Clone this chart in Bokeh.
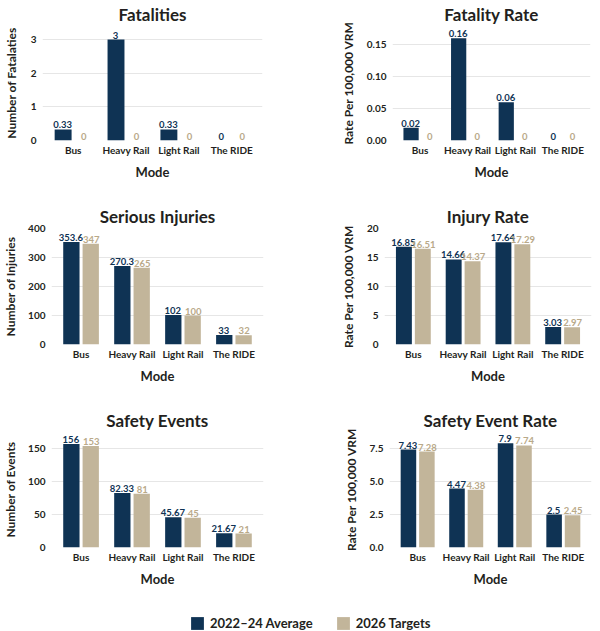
from bokeh.plotting import figure
from bokeh.models import (FactorRange, Range1d, ColumnDataSource, NumeralTickFormatter,
                          FixedTicker, Legend, LegendItem)
from bokeh.transform import dodge
from bokeh.layouts import column, row
from bokeh.embed import file_html
from bokeh.resources import INLINE
from bokeh.core.properties import value

# ---------------- data ----------------
modes = ["Bus", "Heavy Rail", "Light Rail", "The RIDE"]
series_names = ["2022\u201324 Average", "2026 Targets"]

fatalities_avg = [0.33, 3, 0.33, 0]
fatalities_tgt = [0, 0, 0, 0]
fatality_rate_avg = [0.02, 0.16, 0.06, 0]
fatality_rate_tgt = [0, 0, 0, 0]
injuries_avg = [353.6, 270.3, 102, 33]
injuries_tgt = [347, 265, 100, 32]
injury_rate_avg = [16.85, 14.66, 17.64, 3.03]
injury_rate_tgt = [16.51, 14.37, 17.29, 2.97]
events_avg = [156, 82.33, 45.67, 21.67]
events_tgt = [153, 81, 45, 21]
event_rate_avg = [7.43, 4.47, 7.9, 2.5]
event_rate_tgt = [7.28, 4.38, 7.74, 2.45]

fatalities_ticks = [0, 1, 2, 3]
fatality_rate_ticks = [0, 0.05, 0.10, 0.15]
injuries_ticks = [0, 100, 200, 300, 400]
injury_rate_ticks = [0, 5, 10, 15, 20]
events_ticks = [0, 50, 100, 150]
event_rate_ticks = [0, 2.5, 5.0, 7.5]

# ---------------- style ----------------
NAVY = "#0f3354"
TAN = "#c2b59a"
TAN_TXT = "#b9a989"
INK = "#231f20"
GRID = "#e6e6e6"
FONT = "Lato"


def make_panel(title, ylabel, avg, tgt, ticks, fmt, y_end, fw, fh,
               bl, br, bt, bb, ylab_standoff, title_standoff):
    p = figure(x_range=FactorRange(factors=modes, range_padding=0.04),
               y_range=Range1d(0, y_end),
               frame_width=fw, frame_height=fh, output_backend="svg",
               toolbar_location=None,
               min_border_left=bl, min_border_right=br,
               min_border_top=bt, min_border_bottom=bb)
    src = ColumnDataSource(dict(
        mode=modes, avg=avg, tgt=tgt,
        avg_lbl=[f"{v:g}" for v in avg],
        tgt_lbl=[f"{v:g}" for v in tgt],
    ))
    off = 0.19
    bw = 0.32
    p.vbar(x=dodge("mode", -off, range=p.x_range), top="avg", width=bw,
           source=src, fill_color=NAVY, line_color=None)
    p.vbar(x=dodge("mode", off, range=p.x_range), top="tgt", width=bw,
           source=src, fill_color=TAN, line_color=None)
    p.text(x=dodge("mode", -off, range=p.x_range), y="avg", text="avg_lbl",
           source=src, text_align="center", text_baseline="bottom",
           y_offset=-1, x_offset=-0.5,
           text_font=value(FONT), text_font_size="9.5px",
           text_font_style="bold", text_color=NAVY)
    p.text(x=dodge("mode", off, range=p.x_range), y="tgt", text="tgt_lbl",
           source=src, text_align="center", text_baseline="bottom",
           y_offset=-1, x_offset=0.5,
           text_font=value(FONT), text_font_size="9.5px",
           text_font_style="bold", text_color=TAN_TXT)

    p.title.text = title
    p.title.align = "center"
    p.title.text_font = FONT
    p.title.text_font_size = "17px"
    p.title.text_font_style = "bold"
    p.title.text_color = INK
    p.title.standoff = title_standoff

    p.outline_line_color = None
    p.xgrid.grid_line_color = None
    p.ygrid.grid_line_color = GRID
    p.ygrid.ticker = FixedTicker(ticks=ticks)

    p.yaxis.ticker = FixedTicker(ticks=ticks)
    p.yaxis.formatter = NumeralTickFormatter(format=fmt)
    p.yaxis.axis_label = ylabel
    p.yaxis.axis_label_standoff = ylab_standoff
    p.yaxis.major_label_standoff = 6
    p.xaxis.axis_label = "Mode"
    p.xaxis.axis_label_standoff = 5
    p.xaxis.major_label_standoff = 3
    for ax in (p.xaxis[0], p.yaxis[0]):
        ax.axis_line_color = None
        ax.major_tick_line_color = None
        ax.minor_tick_line_color = None
        ax.major_tick_out = 0
        ax.major_tick_in = 0
        ax.minor_tick_out = 0
        ax.minor_tick_in = 0
        ax.axis_label_text_font = FONT
        ax.axis_label_text_font_style = "bold"
        ax.axis_label_text_color = INK
        ax.major_label_text_font = FONT
        ax.major_label_text_font_style = "bold"
        ax.major_label_text_color = INK
    p.xaxis.axis_label_text_font_size = "13px"
    p.yaxis.axis_label_text_font_size = "12px"
    p.xaxis.major_label_text_font_size = "10px"
    p.yaxis.major_label_text_font_size = "10px"
    return p


p1 = make_panel("Fatalities", "Number of Fatalaties", fatalities_avg, fatalities_tgt,
                fatalities_ticks, "0", 3.42, 220, 115, 34, 38, 23, 60, 9, 2)
p2 = make_panel("Fatality Rate", "Rate Per 100,000 VRM", fatality_rate_avg, fatality_rate_tgt,
                fatality_rate_ticks, "0.00", 0.18, 198, 115, 92, 2, 23, 60, 8, 2)
p3 = make_panel("Serious Injuries", "Number of Injuries", injuries_avg, injuries_tgt,
                injuries_ticks, "0", 400, 212, 116, 42, 38, 28, 59, 7, 4)
p4 = make_panel("Injury Rate", "Rate Per 100,000 VRM", injury_rate_avg, injury_rate_tgt,
                injury_rate_ticks, "0", 20, 207, 116, 83, 2, 28, 59, 8, 4)
p5 = make_panel("Safety Events", "Number of Events", events_avg, events_tgt,
                events_ticks, "0", 175, 212, 116, 42, 38, 28, 66, 7, 1)
p6 = make_panel("Safety Event Rate", "Rate Per 100,000 VRM", event_rate_avg, event_rate_tgt,
                event_rate_ticks, "0.0", 8.8, 202, 116, 88, 2, 28, 66, 8, 1)

# ---------------- legend ----------------
lg = figure(width=584, height=18, output_backend="svg", toolbar_location=None,
            x_range=Range1d(0, 1), y_range=Range1d(0, 1), min_border=0)
lg.axis.visible = False
lg.grid.grid_line_color = None
lg.outline_line_color = None
r1 = lg.vbar(x=[0], top=[0], width=0.01, fill_color=NAVY, line_color=None)
r2 = lg.vbar(x=[0], top=[0], width=0.01, fill_color=TAN, line_color=None)
legend = Legend(items=[LegendItem(label=series_names[0], renderers=[r1]),
                       LegendItem(label=series_names[1], renderers=[r2])],
                orientation="horizontal", location=(189, 0),
                glyph_width=16, glyph_height=16, label_standoff=5, spacing=22,
                label_text_font=FONT, label_text_font_size="13px",
                label_text_font_style="bold",
                label_text_color=INK, label_height=16,
                border_line_color=None, background_fill_alpha=0,
                padding=0, margin=0)
lg.add_layout(legend)

layout = column(row(p1, p2), row(p3, p4), row(p5, p6), lg)

with open("out.html", "w") as f:
    f.write(file_html(layout, INLINE))
